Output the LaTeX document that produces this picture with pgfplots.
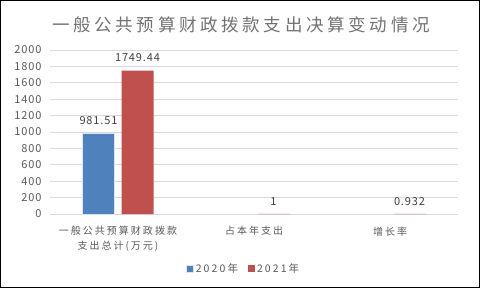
\documentclass[border=0pt]{standalone}
\usepackage{pgfplots}
\pgfplotsset{compat=1.18}
\usepackage{fontspec}
\setmainfont{Noto Sans CJK SC}
\newfontfamily\titlefont{Noto Sans CJK SC}[LetterSpace=21]
\newfontfamily\lblfont{Noto Sans CJK SC}[LetterSpace=20]
\newfontfamily\numfont{Noto Sans CJK SC}[LetterSpace=8]
\definecolor{cblue}{HTML}{4F81BD}
\definecolor{cred}{HTML}{C0504D}
\definecolor{tgray}{HTML}{595959}
\definecolor{lgray}{HTML}{D9D9D9}
\begin{document}
\begin{tikzpicture}
\path[use as bounding box] (0,0) rectangle (481pt,289pt);
\draw[black, line width=1pt] (0.5pt,1.5pt) rectangle (479.5pt,288.5pt);
\node[text=tgray!85, font=\titlefont\fontsize{17.5}{20}\selectfont, anchor=center] at (241pt,264pt) {一般公共预算财政拨款支出决算变动情况};
\begin{axis}[
  at={(50pt,75pt)}, anchor=south west,
  scale only axis, width=408pt, height=164pt,
  ybar=7pt, bar width=32pt,
  xmin=-0.5, xmax=2.5, ymin=0, ymax=2000,
  ytick={0,200,...,2000},
  xtick={0,1,2},
  xticklabels={{一般公共预算财政拨款\\支出总计(万元)},{占本年支出},{增长率}},
  xticklabel style={align=center, text=tgray, font=\lblfont\fontsize{10}{15}\selectfont, yshift=-9pt},
  yticklabel style={text=tgray, font=\numfont\fontsize{11}{12}\selectfont, xshift=-5pt},
  /pgf/number format/assume math mode=true,
  /pgf/number format/1000 sep={},
  ymajorgrids, grid style={lgray, line width=0.8pt},
  axis x line*=bottom, axis y line*=left,
  x axis line style={lgray, line width=0.8pt, -},
  y axis line style={draw=none},
  major tick length=0pt,
  tick style={draw=none},
  enlarge x limits=false,
  nodes near coords,
  nodes near coords style={text=black!75, font=\numfont\fontsize{11}{12}\selectfont, /pgf/number format/assume math mode=true, yshift=5pt},
  point meta=explicit symbolic,
  legend style={at={(0.475,-0.335)}, anchor=center, legend columns=2, draw=none, fill=none,
     font=\lblfont\fontsize{10.5}{12}\selectfont, text=tgray,
     /tikz/every even column/.append style={column sep=8pt}},
  legend image code/.code={\fill[#1] (0pt,-3.5pt) rectangle (7pt,3.5pt);},
  clip=false,
]
\addplot[fill=cblue, draw=white!80!cblue, line width=0.4pt] coordinates {(0,981.51) [981.51]};
\addplot[fill=cred, draw=none] coordinates {(0,1749.44) [1749.44] (1,1) [1] (2,0.932) [0.932]};
\legend{2020年,2021年}
\end{axis}
\end{tikzpicture}
\end{document}
